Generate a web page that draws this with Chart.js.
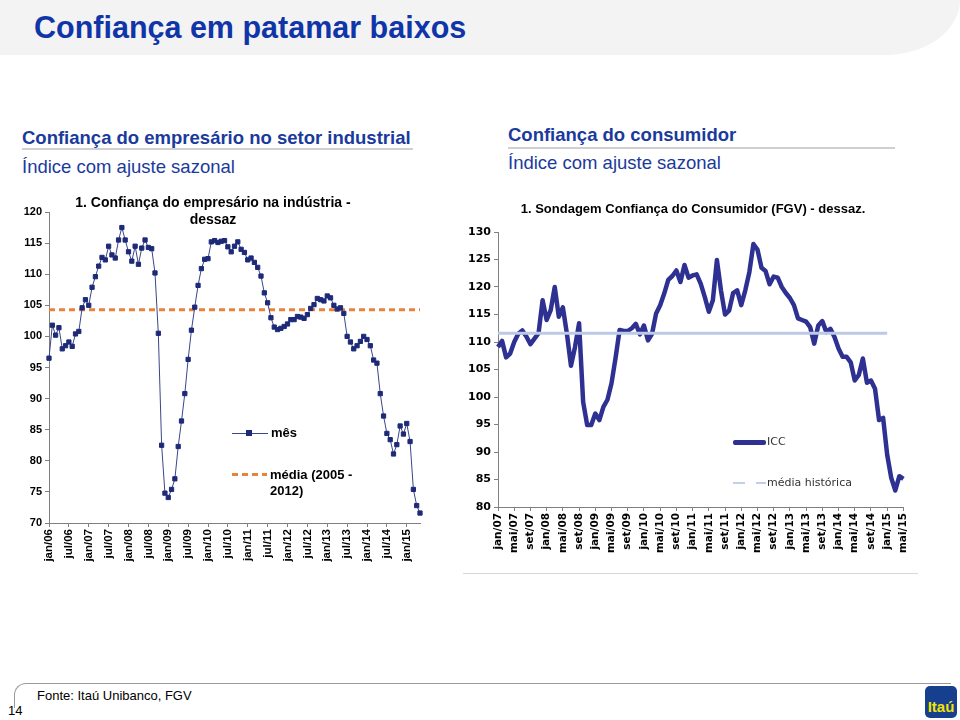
<!DOCTYPE html>
<html lang="pt">
<head>
<meta charset="utf-8">
<title>Confiança em patamar baixos</title>
<script src="https://cdn.jsdelivr.net/npm/chart.js"></script>
<style>
    body { margin: 0; background: #fff; }
    #slide { position: relative; width: 960px; height: 720px; overflow: hidden; font-family: "Liberation Sans", Arial, sans-serif; }
    #band { position: absolute; left: 0; top: 0; width: 960px; height: 55px; background: #f3f3f3; border-bottom-right-radius: 75px 55px; }
    #title { position: absolute; left: 34px; top: 10px; font-size: 30.5px; font-weight: bold; color: #1035a8; line-height: 34px; white-space: nowrap; }
    .head { position: absolute; font-size: 18.5px; font-weight: bold; color: #1a3a9c; line-height: 20px; white-space: nowrap; }
    .sub { position: absolute; font-size: 18.5px; color: #1a3a9c; line-height: 20px; white-space: nowrap; }
    .rule { position: absolute; height: 2px; background: #d0d0d0; }
    .box { position: absolute; }
    .ctitle { position: absolute; font-weight: bold; color: #000; text-align: center; white-space: nowrap; }
    .leg { position: absolute; white-space: nowrap; }
    #footer { position: absolute; left: 14px; top: 683px; width: 936px; height: 24px; border-top: 1px solid #9a9a9a; border-left: 1px solid #9a9a9a; border-top-left-radius: 12px; }
    #fonte { position: absolute; left: 37px; top: 688px; font-size: 13px; color: #000; }
    #page { position: absolute; left: 8px; top: 703px; font-size: 13px; color: #000; }
    #logo { position: absolute; left: 925px; top: 686px; width: 32px; height: 32px; background: #163f8e; border-radius: 5px; color: #f4e300; font-weight: bold; font-size: 15px; text-align: center; line-height: 42px; overflow: hidden; }
</style>
</head>
<body>
<div id="slide">
    <div id="band"></div>
    <div id="title">Confiança em patamar baixos</div>

    <div class="head" style="left:22px; top:128px;">Confiança do empresário no setor industrial</div>
    <div class="rule" style="left:22px; top:148px; width:391px;"></div>
    <div class="sub" style="left:22px; top:157px;">Índice com ajuste sazonal</div>

    <div class="head" style="left:508px; top:125px;">Confiança do consumidor</div>
    <div class="rule" style="left:508px; top:147px; width:387px;"></div>
    <div class="sub" style="left:508px; top:153px;">Índice com ajuste sazonal</div>

    <div class="box" style="left:20px; top:190px; width:410px; height:375px;"><canvas id="chartIndustria"></canvas></div>
    <div class="ctitle" style="left:20px; top:194px; width:386px; font-size:14px; line-height:17px;">1. Confiança do empresário na indústria -<br>dessaz</div>

    <div class="leg" style="left:232px; top:433px; width:36px; height:1px; background:#3a4688;"></div>
    <div class="leg" style="left:246px; top:430px; width:6px; height:6px; background:#1d2a78;"></div>
    <div class="leg" style="left:271px; top:425px; font-weight:bold; font-size:13px;">mês</div>
    <div class="leg" style="left:232px; top:473px; width:35px; height:3px; background:repeating-linear-gradient(90deg, #e9823a 0 6px, transparent 6px 10px);"></div>
    <div class="leg" style="left:270px; top:467px; font-weight:bold; font-size:13px; line-height:16px;">média (2005 -<br>2012)</div>

    <div class="box" style="left:463px; top:190px; width:455px; height:383px; border-bottom:1px solid #d8d8d8;"><canvas id="chartConsumidor"></canvas></div>
    <div class="ctitle" style="left:463px; top:201px; width:460px; font-size:13px; line-height:15px;">1. Sondagem Confiança do Consumidor (FGV) - dessaz.</div>

    <div class="leg" style="left:733px; top:440px; width:33px; height:5px; border-radius:2px; background:#2e3192;"></div>
    <div class="leg" style="left:767px; top:435px; font-family:'DejaVu Sans'; font-size:11px; color:#333;">ICC</div>
    <div class="leg" style="left:733px; top:482px; width:33px; height:2px; background:repeating-linear-gradient(90deg, #c3cfe8 0 12px, transparent 12px 23px);"></div>
    <div class="leg" style="left:767px; top:476px; font-family:'DejaVu Sans'; font-size:11px; color:#333;">média histórica</div>

    <div id="footer"></div>
    <div id="fonte">Fonte: Itaú Unibanco, FGV</div>
    <div id="page">14</div>
    <div id="logo">Itaú</div>
</div>

<script>
let nomesMes = ["jan", "fev", "mar", "abr", "mai", "jun", "jul", "ago", "set", "out", "nov", "dez"]

// confiança do empresário, jan/06 a mai/15
let industria = [
    96.5, 101.8, 100.2, 101.4, 98.0, 98.5, 99.1, 98.4, 100.4, 100.8,
    104.6, 105.9, 105.0, 107.9, 109.6, 111.3, 112.7, 112.3, 114.5, 113.1,
    112.6, 115.5, 117.5, 115.5, 113.6, 112.1, 114.5, 111.6, 114.2, 115.5,
    114.3, 114.1, 110.2, 100.5, 82.5, 74.8, 74.1, 75.4, 77.1, 82.3,
    86.4, 90.8, 96.3, 101.0, 104.7, 108.2, 110.9, 112.4, 112.5, 115.2,
    115.4, 115.1, 115.3, 115.4, 114.4, 113.6, 114.5, 115.2, 114.0, 113.5,
    112.3, 112.6, 111.9, 111.1, 109.7, 107.0, 105.4, 103.0, 101.5, 101.1,
    101.3, 101.6, 102.0, 102.7, 102.7, 103.2, 103.1, 102.9, 103.5, 104.5,
    105.1, 106.1, 105.9, 105.7, 106.5, 106.2, 105.0, 104.4, 104.6, 103.7,
    100.0, 99.1, 98.0, 98.5, 99.2, 100.0, 99.5, 98.5, 96.2, 95.7,
    90.8, 87.2, 84.4, 83.4, 81.1, 82.6, 85.6, 84.3, 86.0, 83.1,
    75.4, 72.8, 71.6
]
let mediaIndustria = 104.3
let ticksIndustria = ["jan/06", "jul/06", "jan/07", "jul/07", "jan/08", "jul/08", "jan/09", "jul/09", "jan/10", "jul/10",
    "jan/11", "jul/11", "jan/12", "jul/12", "jan/13", "jul/13", "jan/14", "jul/14", "jan/15"]

// ICC FGV, jan/07 a mai/15
let icc = [
    109.1, 110.2, 107.2, 107.9, 110.0, 111.5, 112.1, 111.0, 109.6, 110.6,
    111.6, 117.6, 114.0, 115.8, 120.0, 114.6, 116.3, 111.5, 105.7, 109.1,
    113.4, 99.1, 94.9, 94.9, 97.0, 95.8, 98.2, 99.5, 102.5, 107.1,
    112.2, 112.0, 112.0, 112.5, 113.3, 111.4, 113.0, 110.3, 111.5, 115.2,
    116.7, 118.8, 121.3, 122.0, 123.0, 120.9, 124.0, 121.7, 122.1, 122.3,
    120.6, 118.2, 115.5, 117.6, 124.9, 119.4, 115.0, 115.7, 118.9, 119.4,
    116.7, 119.4, 122.7, 127.8, 126.8, 123.5, 122.9, 120.5, 121.9, 121.7,
    120.0, 118.9, 118.0, 116.7, 114.3, 114.0, 113.7, 112.7, 109.7, 113.0,
    113.8, 111.8, 112.4, 110.9, 108.8, 107.3, 107.3, 106.3, 103.0, 104.0,
    107.0, 102.6, 103.0, 101.5, 95.8, 96.2, 89.5, 85.3, 83.0, 85.6,
    85.1
]
let mediaHistorica = 111.6
let fimMediaHistorica = 96
let ticksConsumidor = ["jan/07", "mai/07", "set/07", "jan/08", "mai/08", "set/08", "jan/09", "mai/09", "set/09",
    "jan/10", "mai/10", "set/10", "jan/11", "mai/11", "set/11", "jan/12", "mai/12", "set/12",
    "jan/13", "mai/13", "set/13", "jan/14", "mai/14", "set/14", "jan/15", "mai/15"]

function meses(anoInicio, quantidade) {
    let lista = []
    for (let i = 0; i < quantidade; i++) {
        let ano = anoInicio + Math.floor(i / 12)
        lista.push(nomesMes[i % 12] + "/" + String(ano).slice(2))
    }
    return lista
}

let mesesIndustria = meses(2006, industria.length)
let mesesConsumidor = meses(2007, icc.length)

let axisGray = "#808080"

function eixoY(min, max, font, width) {
    return {
        min: min,
        max: max,
        grid: { drawOnChartArea: false, tickLength: 4, color: axisGray },
        border: { color: axisGray },
        ticks: { stepSize: 5, padding: 3, color: "#000", font: font },
        afterFit: (scale) => { scale.width = width }
    }
}

function eixoX(tickLabels, every, font, height) {
    return {
        offset: false,
        grid: { drawOnChartArea: false, tickLength: 4, color: axisGray },
        border: { color: axisGray },
        ticks: {
            autoSkip: false, maxRotation: 90, minRotation: 90, padding: 2, color: "#000", font: font,
            callback: (value, index) => index % every === 0 ? tickLabels[index / every] : null
        },
        afterFit: (scale) => { scale.height = height }
    }
}

new Chart(document.getElementById("chartIndustria"), {
    type: "line",
    data: {
        labels: mesesIndustria,
        datasets: [
            {
                label: "mês",
                data: industria,
                borderColor: "#3a4688",
                borderWidth: 1,
                pointStyle: "rect",
                pointRadius: 3,
                pointBorderWidth: 1,
                pointBackgroundColor: "#1d2a78",
                pointBorderColor: "#1d2a78"
            },
            {
                label: "média (2005 - 2012)",
                data: mesesIndustria.map(() => mediaIndustria),
                borderColor: "#e9823a",
                borderWidth: 3,
                borderDash: [6, 4],
                pointRadius: 0
            }
        ]
    },
    options: {
        responsive: true,
        maintainAspectRatio: false,
        animation: false,
        layout: { padding: { top: 22, right: 10, left: 0, bottom: 0 } },
        plugins: { legend: { display: false }, tooltip: { enabled: false } },
        scales: {
            x: eixoX(ticksIndustria, 6, { family: "Liberation Sans", weight: "bold", size: 11.5 }, 42),
            y: eixoY(70, 120, { family: "Liberation Sans", weight: "bold", size: 11 }, 29)
        }
    }
})

new Chart(document.getElementById("chartConsumidor"), {
    type: "line",
    data: {
        labels: mesesConsumidor,
        datasets: [
            {
                label: "ICC",
                data: icc,
                borderColor: "#2e3192",
                borderWidth: 4.5,
                borderJoinStyle: "round",
                pointRadius: 0,
                order: 1
            },
            {
                label: "média histórica",
                data: mesesConsumidor.map((m, i) => i <= fimMediaHistorica ? mediaHistorica : null),
                borderColor: "#bccae6",
                borderWidth: 3,
                pointRadius: 0,
                order: 0
            }
        ]
    },
    options: {
        responsive: true,
        maintainAspectRatio: false,
        animation: false,
        layout: { padding: { top: 42, right: 9, left: 0, bottom: 0 } },
        plugins: { legend: { display: false }, tooltip: { enabled: false } },
        scales: {
            x: eixoX(ticksConsumidor, 4, { family: "DejaVu Sans", weight: "bold", size: 10.5 }, 66),
            y: eixoY(80, 130, { family: "DejaVu Sans", weight: "bold", size: 11 }, 35)
        }
    }
})
</script>
</body>
</html>
